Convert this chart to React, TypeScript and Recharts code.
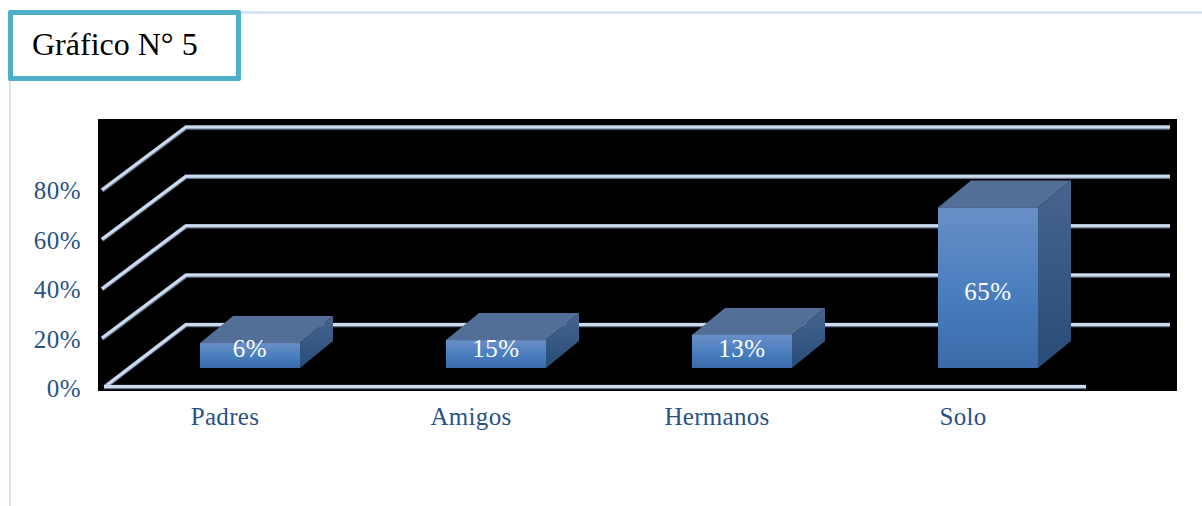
import React from "react";
import { BarChart, Bar, XAxis, YAxis, LabelList, CartesianGrid } from "recharts";

const categories = ["Padres", "Amigos", "Hermanos", "Solo"];
const barHeights = [10.1, 11.3, 13.4, 65];
const barLabels = ["6%", "15%", "13%", "65%"];
const yTicks = [0, 20, 40, 60, 80];

const rows = categories.map((name, i) => ({ name, value: barHeights[i], label: barLabels[i] }));

const TEXT = "#2a5185";
const FONT = "'Liberation Serif', serif";
const DEPTH_X = 84;
const DEPTH_Y = 63;
const WALL_OFFSET = 20;
const PLOT_TOP = 121;
const PLOT_BOTTOM = 368;

function Line3D({ d }: { d: string }) {
  return (
    <g fill="none" strokeLinejoin="miter">
      <path d={d} stroke="#66748c" strokeWidth={4.5} />
      <path d={d} stroke="#cddbef" strokeWidth={3} transform="translate(0,-0.5)" />
    </g>
  );
}

function GridLine(props: any) {
  const y = props.y1;
  if (Math.abs(y - PLOT_TOP) < 1) return <g />;
  const fy = y + WALL_OFFSET;
  const by = fy - DEPTH_Y;
  const isZero = Math.abs(y - PLOT_BOTTOM) < 1;
  return (
    <g>
      <Line3D d={`M${isZero ? 105 : 102} ${fy - (isZero ? 1 : 0)} L${102 + DEPTH_X} ${by} L${1170} ${by}`} />
      {isZero && <Line3D d={`M104 ${fy - 1} L1086 ${fy - 1}`} />}
    </g>
  );
}

function YTick(props: any) {
  const { y, payload } = props;
  return (
    <text x={81} y={y + WALL_OFFSET + 9} textAnchor="end" fill={TEXT} fontFamily={FONT} fontSize={25} letterSpacing={0.5}>
      {payload.value}%
    </text>
  );
}

function XTick(props: any) {
  const { x, payload } = props;
  return (
    <text x={x - 25} y={425} textAnchor="middle" fill={TEXT} fontFamily={FONT} fontSize={25} letterSpacing={0.3}>
      {payload.value}
    </text>
  );
}

function Bar3D(props: any) {
  const { x, y, width, height, index } = props;
  const dx = 33;
  const dy = 27;
  return (
    <g>
      <defs>
        <linearGradient id={`front${index}`} x1="0" y1="0" x2="0" y2="1">
          <stop offset="0%" stopColor="#6a8fc7" />
          <stop offset="55%" stopColor="#487dbe" />
          <stop offset="100%" stopColor="#3b6ba8" />
        </linearGradient>
        <linearGradient id={`side${index}`} x1="0" y1="0" x2="0" y2="1">
          <stop offset="0%" stopColor="#46658f" />
          <stop offset="100%" stopColor="#284c78" />
        </linearGradient>
      </defs>
      <polygon points={`${x},${y} ${x + dx},${y - dy} ${x + width + dx},${y - dy} ${x + width},${y}`} fill="#536f98" />
      <polygon
        points={`${x + width},${y} ${x + width + dx},${y - dy} ${x + width + dx},${y + height - dy} ${x + width},${y + height}`}
        fill={`url(#side${index})`}
      />
      <rect x={x} y={y} width={width} height={height} fill={`url(#front${index})`} />
    </g>
  );
}

function BarLabel(props: any) {
  const { x, y, width, height, value } = props;
  const baseline = height > 100 ? y + height / 2 + 12 : y + height - 11.5;
  return (
    <text x={x + width / 2} y={baseline} textAnchor="middle" fill="#ffffff" fontFamily={FONT} fontSize={25} letterSpacing={0.5}>
      {value}
    </text>
  );
}

export default function App() {
  return (
    <div style={{ position: "absolute", left: 0, top: 0, width: 1202, height: 506, background: "#fff", overflow: "hidden" }}>
      <div style={{ position: "absolute", left: 240, top: 11, right: 0, height: 3, background: "#d6e4f5" }} />
      <div style={{ position: "absolute", left: 9, top: 80, bottom: 0, width: 2, background: "#d6e4f5" }} />
      <div
        style={{
          position: "absolute",
          left: 8,
          top: 10,
          width: 223,
          height: 61,
          border: "5px solid #4fafc8",
          borderRadius: 2,
          background: "#fff",
        }}
      />
      <div
        style={{
          position: "absolute",
          left: 32,
          top: 26,
          fontFamily: FONT,
          fontSize: 32,
          lineHeight: "36px",
          color: "#000",
          whiteSpace: "nowrap",
        }}
      >
        Gráfico N° 5
      </div>
      <div style={{ position: "absolute", left: 98, top: 119, width: 1079, height: 272, background: "#000" }} />
      <div style={{ position: "absolute", left: 0, top: 0 }}>
        <BarChart
          width={1202}
          height={506}
          data={rows}
          barSize={100}
          margin={{ top: PLOT_TOP, right: 91, bottom: 108, left: 0 }}
        >
          <CartesianGrid vertical={false} horizontal={GridLine} />
          <YAxis
            width={127}
            domain={[0, 100]}
            ticks={yTicks}
            interval={0}
            axisLine={false}
            tickLine={false}
            tick={YTick}
          />
          <XAxis dataKey="name" height={30} axisLine={false} tickLine={false} interval={0} tick={XTick} />
          <Bar dataKey="value" isAnimationActive={false} shape={Bar3D}>
            <LabelList dataKey="label" content={BarLabel} />
          </Bar>
        </BarChart>
      </div>
    </div>
  );
}
